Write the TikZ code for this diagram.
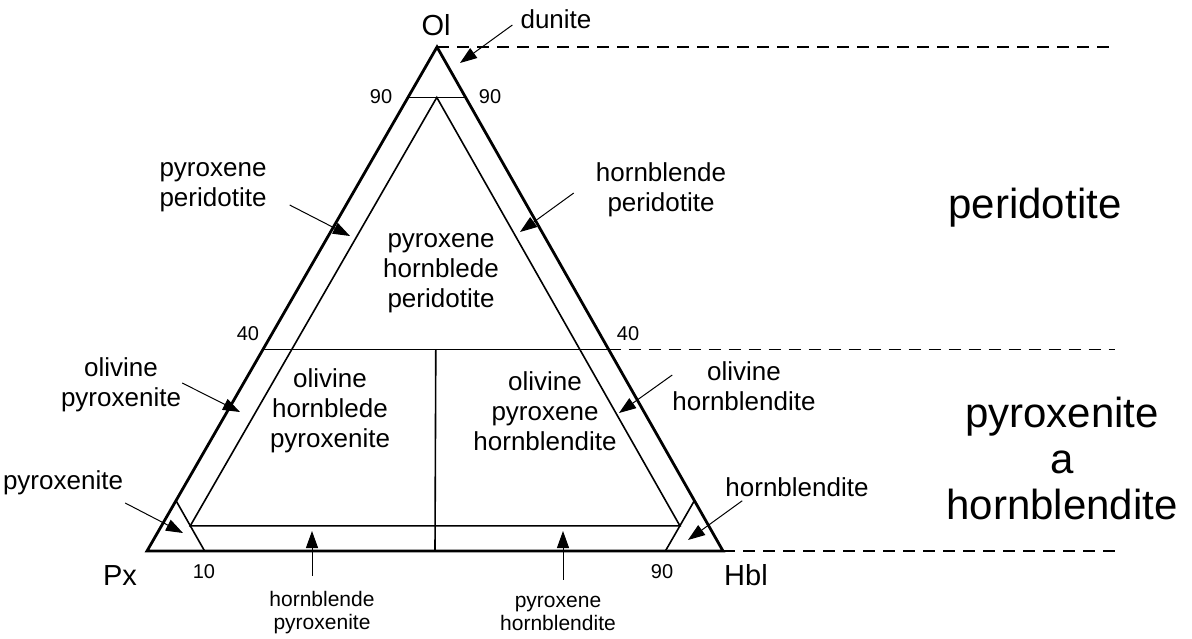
\documentclass[tikz,border=0pt]{standalone}
\usepackage{fontspec}
\setmainfont{Liberation Sans}
\usetikzlibrary{arrows.meta}

\begin{document}
\begin{tikzpicture}[x=1pt, y=-1pt, >={Triangle[length=17pt,width=12pt]},
    lab/.style={align=center, inner sep=0pt, font=\fontsize{26}{30}\selectfont},
    small/.style={align=center, inner sep=0pt, font=\fontsize{21}{23}\selectfont},
    num/.style={inner sep=0pt, font=\fontsize{20}{22}\selectfont},
    big/.style={align=center, inner sep=0pt, font=\fontsize{42}{46}\selectfont},
    apex/.style={inner sep=0pt, font=\fontsize{29}{32}\selectfont},
    pointer/.style={->, line width=1pt},
    field/.style={line width=1.6pt},
    level/.style={line width=1.2pt, dash pattern=on 12pt off 8pt}]
    \useasboundingbox (0,0) rectangle (1192,638);
    \coordinate (Ol) at (437,47);
    \coordinate (Px) at (147,551);
    \coordinate (Hbl) at (723,551);
    \coordinate (edge) at (1115,0);

    \coordinate (o90l) at (barycentric cs:Ol=0.9,Px=0.1,Hbl=0);
    \coordinate (o90r) at (barycentric cs:Ol=0.9,Px=0,Hbl=0.1);
    \coordinate (o90m) at (barycentric cs:Ol=0.9,Px=0.05,Hbl=0.05);
    \coordinate (o40l) at (barycentric cs:Ol=0.4,Px=0.6,Hbl=0);
    \coordinate (o40r) at (barycentric cs:Ol=0.4,Px=0,Hbl=0.6);
    \coordinate (o40m) at (barycentric cs:Ol=0.4,Px=0.3,Hbl=0.3);
    \coordinate (base) at (barycentric cs:Ol=0,Px=0.5,Hbl=0.5);
    \coordinate (px90l) at (barycentric cs:Ol=0.1,Px=0.9,Hbl=0);
    \coordinate (px90b) at (barycentric cs:Ol=0,Px=0.9,Hbl=0.1);
    \coordinate (hb90r) at (barycentric cs:Ol=0.1,Px=0,Hbl=0.9);
    \coordinate (hb90b) at (barycentric cs:Ol=0,Px=0.1,Hbl=0.9);
    \coordinate (inpx) at (barycentric cs:Ol=0.05,Px=0.9,Hbl=0.05);
    \coordinate (inhb) at (barycentric cs:Ol=0.05,Px=0.05,Hbl=0.9);

    \draw[level] (Ol) -- (Ol -| edge);
    \draw[level] (o40r) -- (o40r -| edge);
    \draw[level] (Hbl) -- (Hbl -| edge);

    \draw[field] (o90l) -- (o90r);
    \draw[field] (o40l) -- (o40r);
    \draw[field] (o40m) -- (base);
    \draw[field] (px90l) -- (px90b);
    \draw[field] (hb90r) -- (hb90b);
    \draw[field] (o90m) -- (inpx) -- (inhb) -- cycle;
    \draw[line width=2.8pt] (Ol) -- (Px) -- (Hbl) -- cycle;

    \node[apex] (olLab) at (436,25) {Ol};
    \node[apex] (pxLab) at (120,576) {Px};
    \node[apex] (hblLab) at (746,575) {Hbl};

    \node[num] (n90l) at (381,97) {90};
    \node[num] (n90r) at (490,97) {90};
    \node[num] (n40l) at (248,334) {40};
    \node[num] (n40r) at (628,334) {40};
    \node[num] (n10b) at (204,572) {10};
    \node[num] (n90b) at (662,572) {90};

    \node[lab] (phPer) at (441,273) {pyroxene\\hornblede\\peridotite};
    \node[lab] (ohPyx) at (330,411) {olivine\\hornblede\\pyroxenite};
    \node[lab] (opHbl) at (545,411) {olivine\\pyroxene\\hornblendite};

    \node[big] (perid) at (1035,208) {peridotite};
    \node[big] (pyxhb) at (1062,458) {pyroxenite\\a\\hornblendite};

    \node[lab] (dunite) at (556,19) {dunite};
    \node[lab] (pxPer) at (213,187) {pyroxene\\peridotite};
    \node[lab] (olPyx) at (121,385) {olivine\\pyroxenite};
    \node[lab] (pyx) at (63,483) {pyroxenite};
    \node[lab] (hbPer) at (661,190) {hornblende\\peridotite};
    \node[lab] (olHbl) at (744,386) {olivine\\hornblendite};
    \node[lab] (hbl) at (797,487) {hornblendite};
    \node[small] (hbPyx) at (322,613) {hornblende\\pyroxenite};
    \node[small] (pxHbl) at (558,613) {pyroxene\\hornblendite};

    \coordinate (duniteTip) at (460,63);
    \coordinate (pxPerTip) at (350,236);
    \coordinate (olPyxTip) at (240,412);
    \coordinate (pyxTip) at (183,533);
    \coordinate (hbPerTip) at (520,232);
    \coordinate (olHblTip) at (619,413);
    \coordinate (hblTip) at (688,540);
    \coordinate (hbPyxTip) at (312,531);
    \coordinate (pxHblTip) at (563,531);

    \draw[pointer] ([shift={(-8,6)}]dunite.west) -- (duniteTip);
    \draw[pointer] ([shift={(23,18)}]pxPer.east) -- (pxPerTip);
    \draw[pointer] ([shift={(1,-2)}]olPyx.east) -- (olPyxTip);
    \draw[pointer] ([shift={(2,20)}]pyx.east) -- (pyxTip);
    \draw[pointer] ([shift={(-22,3)}]hbPer.west) -- (hbPerTip);
    \draw[pointer] ([shift={(0,-11)}]olHbl.west) -- (olHblTip);
    \draw[pointer] ([shift={(17,4)}]hbl.south west) -- (hblTip);
    \draw[pointer] ([shift={(-10,-16)}]hbPyx.north) -- (hbPyxTip);
    \draw[pointer] ([shift={(5,-16)}]pxHbl.north) -- (pxHblTip);
\end{tikzpicture}
\end{document}
